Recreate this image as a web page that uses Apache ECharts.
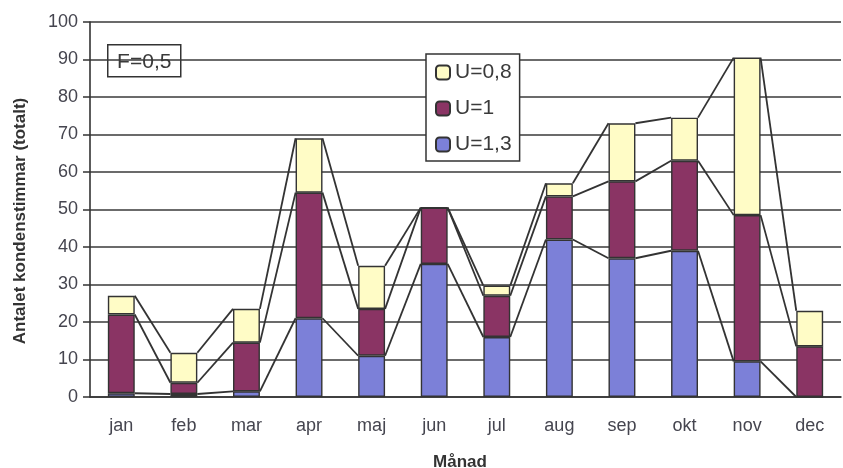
<!DOCTYPE html>
<html>
<head>
<meta charset="utf-8">
<script src="https://cdn.jsdelivr.net/npm/echarts@6/dist/echarts.min.js"></script>
<style>
  html, body { margin: 0; padding: 0; background: #fff; }
  #chart { width: 843px; height: 468px; }
</style>
</head>
<body>
<div id="chart"></div>
<script>
var months = ['jan', 'feb', 'mar', 'apr', 'maj', 'jun', 'jul', 'aug', 'sep', 'okt', 'nov', 'dec'];
var seriesNames = ['U=1,3', 'U=1', 'U=0,8'];
var u13 = [1, 0.8, 1.5, 21, 11, 35.5, 16, 42, 37, 39, 9.5, 0];
var u1 = [21, 3, 13, 33.5, 12.5, 15, 11, 11.5, 20.5, 24, 39, 13.5];
var u08 = [5, 8, 9, 14.5, 11.5, 0, 2.7, 3.5, 15.5, 11.5, 42, 9.5];
var yTicks = [0, 10, 20, 30, 40, 50, 60, 70, 80, 90, 100];

var colors = ['#7c80d8', '#8a3464', '#fffcc6'];
var barRatio = 0.43;
var ink = '#333';
var font = 'Liberation Sans, Arial, sans-serif';

// cumulative tops for the Excel-style series lines
var levels = [[], [], []];
for (var i = 0; i < months.length; i++) {
  levels[0].push(u13[i]);
  levels[1].push(u13[i] + u1[i]);
  levels[2].push(u13[i] + u1[i] + u08[i]);
}
var lineData = [];
levels.forEach(function (lv) {
  for (var i = 0; i < lv.length - 1; i++) {
    lineData.push([i, lv[i], lv[i + 1]]);
  }
});

function renderSeriesLine(params, api) {
  var idx = api.value(0);
  var p1 = api.coord([idx, api.value(1)]);
  var p2 = api.coord([idx + 1, api.value(2)]);
  var half = api.size([1, 0])[0] * barRatio / 2;
  return {
    type: 'line',
    shape: { x1: p1[0] + half, y1: p1[1], x2: p2[0] - half, y2: p2[1] },
    style: { stroke: ink, lineWidth: 1.8 }
  };
}

function barSeries(name, data, color) {
  return {
    name: name,
    type: 'bar',
    stack: 'tot',
    barWidth: (barRatio * 100) + '%',
    data: data,
    z: 3,
    itemStyle: { color: color, borderColor: ink, borderWidth: 1.4 }
  };
}

var chart = echarts.init(document.getElementById('chart'));
chart.setOption({
  animation: false,
  backgroundColor: '#fff',
  textStyle: { fontFamily: font },
  grid: { left: 90, right: 2, top: 22, bottom: 71, outerBoundsMode: 'none' },
  legend: {
    data: ['U=0,8', 'U=1', 'U=1,3'],
    orient: 'vertical',
    left: 426,
    top: 54,
    itemWidth: 14,
    itemHeight: 14,
    itemGap: 15,
    itemTextGap: 10,
    padding: [8, 8, 6, 9],
    borderColor: ink,
    borderWidth: 1.5,
    backgroundColor: '#fff',
    textStyle: { fontSize: 21, color: '#3a3a3a' }
  },
  graphic: [
    {
      type: 'group',
      left: 107,
      top: 44,
      z: 10,
      children: [
        { type: 'rect', shape: { x: 0, y: 0, width: 73, height: 32 },
          style: { fill: '#fff', stroke: ink, lineWidth: 1.5 } },
        { type: 'text', x: 36.5, y: 17,
          style: { text: 'F=0,5', fontSize: 21, fill: '#3a3a3a', align: 'center', verticalAlign: 'middle',
                   fontFamily: font } }
      ]
    },
    {
      type: 'text',
      x: 20,
      y: 221,
      rotation: Math.PI / 2,
      style: { text: 'Antalet kondenstimmar (totalt)', fontSize: 17, fontWeight: 'bold', fill: '#333',
               align: 'center', verticalAlign: 'middle', fontFamily: font }
    },
    {
      type: 'text',
      x: 460,
      y: 462,
      style: { text: 'Månad', fontSize: 17, fontWeight: 'bold', fill: '#333',
               align: 'center', verticalAlign: 'middle', fontFamily: font }
    }
  ],
  xAxis: {
    type: 'category',
    data: months,
    axisLine: { lineStyle: { color: ink, width: 1.6 } },
    axisTick: { length: 7, lineStyle: { color: ink, width: 1.5 } },
    axisLabel: { fontSize: 18, color: '#45454f', margin: 20 }
  },
  yAxis: {
    type: 'value',
    min: yTicks[0],
    max: yTicks[yTicks.length - 1],
    interval: 10,
    axisLine: { show: true, lineStyle: { color: ink, width: 1.6 } },
    axisTick: { show: true, length: 7, lineStyle: { color: ink, width: 1.5 } },
    axisLabel: { fontSize: 18, color: '#45454f', margin: 12 },
    splitLine: { lineStyle: { color: '#3a3a3a', width: 1.6 } }
  },
  series: [
    barSeries(seriesNames[0], u13, colors[0]),
    barSeries(seriesNames[1], u1, colors[1]),
    barSeries(seriesNames[2], u08, colors[2]),
    {
      type: 'custom',
      renderItem: renderSeriesLine,
      data: lineData,
      encode: { x: 0, y: [1, 2] },
      z: 2,
      silent: true
    }
  ]
});
</script>
</body>
</html>
